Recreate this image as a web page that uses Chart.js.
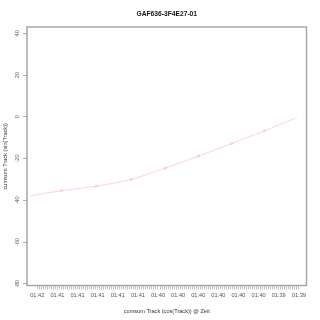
<!DOCTYPE html>
<html lang="de">
<head>
    <meta charset="UTF-8">
    <title>GAF636-3F4E27-01</title>
    <script src="https://cdn.jsdelivr.net/npm/chart.js"></script>
    <style>
        html, body { margin: 0; padding: 0; background: #fff; }
        #chart { display: block; }
    </style>
</head>
<body>
    <canvas id="chart" width="320" height="320"></canvas>

    <script>
        // Daten
        var xTickLabels = ['01:42','01:41','01:41','01:41','01:41','01:41','01:40',
                           '01:40','01:40','01:40','01:40','01:40','01:39','01:39'];
        var yTicks = [-80, -60, -40, -20, 0, 20, 40];
        var trackX = [-3.5, 12, 29.4, 46.6, 63.5, 80.2, 96.6, 113, 129];
        var trackY = [-37.8, -35.4, -33.2, -30.0, -24.6, -18.8, -12.8, -6.7, -0.4];
        var ticksPerLabel = 10;

        var font = 'Liberation Sans, Arial, sans-serif';
        var pink = 'rgba(236, 120, 150, 0.4)';

        var points = trackX.map(function(x, i){ return { x: x, y: trackY[i] }; });

        // Titel, Achsentitel, gedrehte y-Beschriftung und Rahmen
        var rPlot = {
            id: 'rPlot',
            afterDraw: function(chart){
                var ctx = chart.ctx;
                var a = chart.chartArea;
                var ys = chart.scales.y;
                var cx = (a.left + a.right) / 2;
                ctx.save();
                ctx.strokeStyle = '#a6a6a6';
                ctx.lineWidth = 1.5;
                ctx.strokeRect(a.left, a.top, a.right - a.left, a.bottom - a.top);

                ctx.fillStyle = '#111';
                ctx.textAlign = 'center';
                ctx.textBaseline = 'middle';
                ctx.font = 'bold 6.7px ' + font;
                ctx.fillText('GAF636-3F4E27-01', cx, 14);

                ctx.font = '5.6px ' + font;
                ctx.fillStyle = '#333';
                ctx.fillText('cumsum Track (cos(Track)) @ Zeit', cx, 311);

                ctx.translate(5.5, (a.top + a.bottom) / 2);
                ctx.rotate(-Math.PI / 2);
                ctx.fillText('cumsum Track (sin(Track))', 0, 0);
                ctx.restore();

                ctx.save();
                ctx.fillStyle = '#555';
                ctx.font = '5.6px ' + font;
                ctx.textAlign = 'center';
                ctx.textBaseline = 'middle';
                yTicks.forEach(function(v){
                    ctx.save();
                    ctx.translate(17, ys.getPixelForValue(v));
                    ctx.rotate(-Math.PI / 2);
                    ctx.fillText(String(v), 0, 0);
                    ctx.restore();
                });
                ctx.restore();
            }
        };

        new Chart(document.querySelector('#chart'), {
            type: 'line',
            data: {
                datasets: [{
                    data: points,
                    borderColor: pink,
                    borderWidth: 0.8,
                    cubicInterpolationMode: 'monotone',
                    pointRadius: function(c){
                        return (c.dataIndex === 0 || c.dataIndex === points.length - 1) ? 0 : 1.2;
                    },
                    pointBorderColor: pink,
                    pointBackgroundColor: 'rgba(255,255,255,0)',
                    pointBorderWidth: 0.7,
                    fill: false
                }]
            },
            options: {
                responsive: false,
                animation: false,
                layout: { padding: { top: 27, right: 13.5, bottom: 0, left: 0 } },
                plugins: {
                    legend: { display: false },
                    tooltip: { enabled: false }
                },
                scales: {
                    x: {
                        type: 'linear',
                        min: -5.1,
                        max: 133.8,
                        afterBuildTicks: function(axis){
                            var t = [];
                            for (var i = 0; i <= (xTickLabels.length - 1) * ticksPerLabel; i++) t.push({ value: i });
                            axis.ticks = t;
                        },
                        afterFit: function(axis){ axis.height = 34.5; },
                        border: { display: false },
                        grid: {
                            drawOnChartArea: false,
                            drawTicks: true,
                            tickLength: 4,
                            color: '#999',
                            lineWidth: 0.6
                        },
                        ticks: {
                            autoSkip: false,
                            maxRotation: 0,
                            minRotation: 0,
                            padding: 3,
                            color: '#555',
                            font: { family: font, size: 5.6 },
                            callback: function(value){
                                if (value % ticksPerLabel !== 0) return '';
                                return xTickLabels[value / ticksPerLabel];
                            }
                        }
                    },
                    y: {
                        type: 'linear',
                        min: -80.8,
                        max: 43,
                        afterBuildTicks: function(axis){
                            axis.ticks = yTicks.map(function(v){ return { value: v }; });
                        },
                        afterFit: function(axis){ axis.width = 27; },
                        border: { display: false },
                        grid: {
                            drawOnChartArea: false,
                            drawTicks: true,
                            tickLength: 4,
                            color: '#999',
                            lineWidth: 0.8
                        },
                        ticks: { display: false }
                    }
                }
            },
            plugins: [rPlot]
        });
    </script>
</body>
</html>
